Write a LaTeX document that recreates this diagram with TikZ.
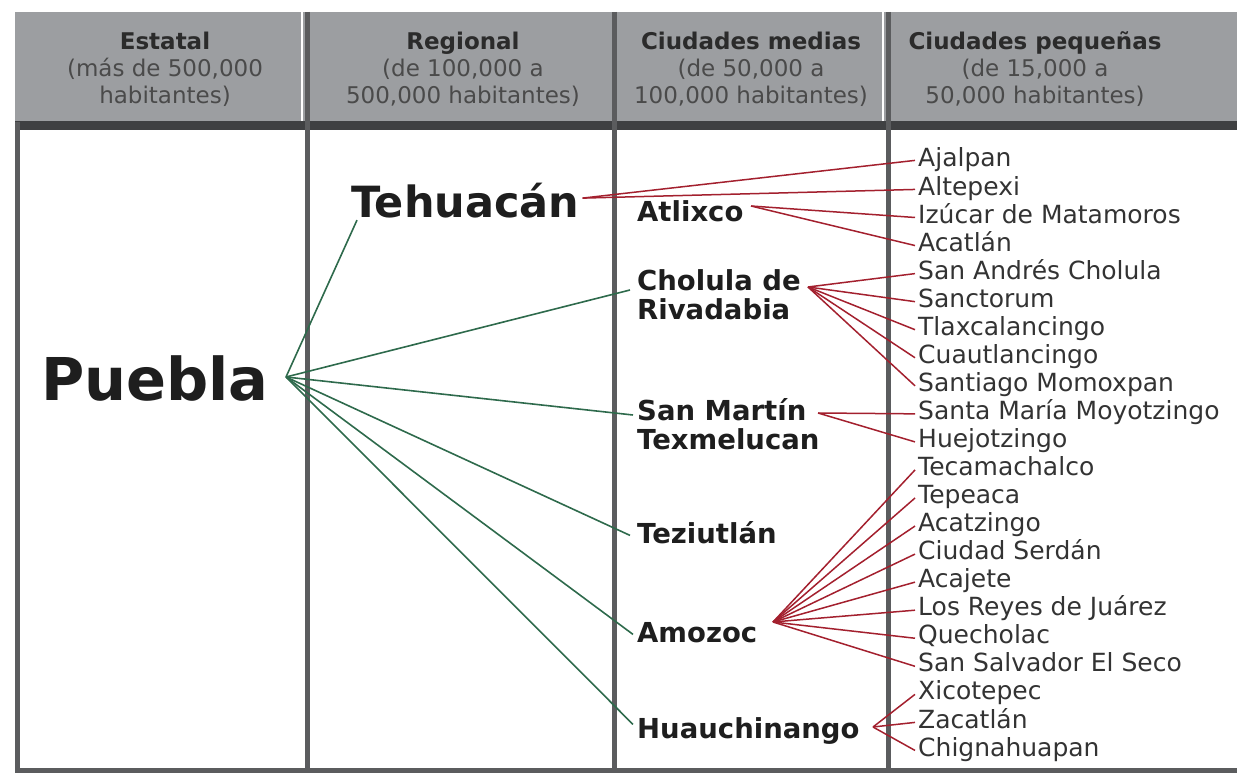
\documentclass[tikz,border=0pt]{standalone}
\usepackage{fontspec}
\setmainfont{DejaVu Sans}
\definecolor{hdrfill}{HTML}{9C9EA1}
\definecolor{bandcol}{HTML}{3F4042}
\definecolor{divcol}{HTML}{5B5C5E}
\definecolor{lgreen}{HTML}{2E6A4C}
\definecolor{lred}{HTML}{A3202E}
\definecolor{boldtxt}{HTML}{1E1E1E}
\definecolor{hdrbold}{HTML}{2B2B2B}
\definecolor{hdrreg}{HTML}{4A4A4A}
\definecolor{smalltxt}{HTML}{333333}
\begin{document}
\begin{tikzpicture}[x=1pt,y=-1pt,
  hdr/.style={align=center, inner sep=0pt, text=hdrreg, font=\fontsize{23}{27}\selectfont},
  midname/.style={anchor=west, align=left, inner sep=0pt, text=boldtxt, font=\bfseries\fontsize{27.5}{29}\selectfont},
  midone/.style={anchor=base west, inner sep=0pt, text=boldtxt, font=\bfseries\fontsize{27.5}{29}\selectfont, text height=0.76em, text depth=0.24em},
  smallname/.style={anchor=base west, inner sep=0pt, text=smalltxt, font=\fontsize{25}{28}\selectfont, text height=0.76em, text depth=0.24em},
  gline/.style={draw=lgreen, line width=1.6pt},
  rline/.style={draw=lred, line width=1.5pt},
  divider/.style={draw=divcol, line width=5pt}]
\useasboundingbox (0,0) rectangle (1237,775);
% header
\fill[hdrfill] (15,12) rectangle (1237,122);
\fill[bandcol] (15,121) rectangle (1237,130);
\draw[white, line width=1.5pt] (302,12) -- (302,121);
\draw[white, line width=1.5pt] (883,12) -- (883,121);
\draw[divider] (17,122) -- (17,770);
\draw[divider] (307,12) -- (307,770);
\draw[divider] (614,12) -- (614,770);
\draw[divider] (888,12) -- (888,770);
\draw[divider] (15,770) -- (1237,770);
\node[hdr] (h1) at (165,69) {{\color{hdrbold}\bfseries Estatal}\\(más de 500,000\\habitantes)};
\node[hdr] (h2) at (463,69) {{\color{hdrbold}\bfseries Regional}\\(de 100,000 a\\500,000 habitantes)};
\node[hdr] (h3) at (751,69) {{\color{hdrbold}\bfseries Ciudades medias}\\(de 50,000 a\\100,000 habitantes)};
\node[hdr] (h4) at (1035,69) {{\color{hdrbold}\bfseries Ciudades pequeñas}\\(de 15,000 a\\50,000 habitantes)};
% main names
\node[anchor=base west, inner sep=0pt, text=boldtxt, font=\bfseries\fontsize{59}{60}\selectfont] (puebla) at (41,401) {Puebla};
\node[anchor=base west, inner sep=0pt, text=boldtxt, font=\bfseries\fontsize{43}{45}\selectfont] (tehuacan) at (351,218) {Tehuacán};
\node[midone] (atlixco) at (637,222) {Atlixco};
\node[midname] (cholula) at (637,295) {Cholula de\\Rivadabia};
\node[midname] (sanmartin) at (637,424) {San Martín\\Texmelucan};
\node[midone] (teziutlan) at (637,543) {Teziutlán};
\node[midone] (amozoc) at (637,642) {Amozoc};
\node[midone] (huauchinango) at (637,738) {Huauchinango};
% small cities
\foreach \t [count=\i] in {Ajalpan, Altepexi, Izúcar de Matamoros, Acatlán, San Andrés Cholula, Sanctorum, Tlaxcalancingo, Cuautlancingo, Santiago Momoxpan, Santa María Moyotzingo, Huejotzingo, Tecamachalco, Tepeaca, Acatzingo, Ciudad Serdán, Acajete, Los Reyes de Juárez, Quecholac, San Salvador El Seco, Xicotepec, Zacatlán, Chignahuapan}
  \node[smallname] (c\i) at (918,{167+28.05*(\i-1)}) {\t};
% hubs
\coordinate (pHub) at (286,377);
\coordinate (aHub) at (751,206);
\coordinate (chHub) at (808,287);
\coordinate (smHub) at (818,413);
\coordinate (amHub) at (773,622);
\coordinate (huHub) at (873,727);
% green connectors
\draw[gline] (pHub) -- ([shift={(6,19)}]tehuacan.west);
\draw[gline] (pHub) -- ([shift={(-7,-5)}]cholula.west);
\draw[gline] (pHub) -- ([shift={(-4,-9)}]sanmartin.west);
\draw[gline] (pHub) -- ([shift={(-7,-5)}]teziutlan.west);
\draw[gline] (pHub) -- ([shift={(-4,-5)}]amozoc.west);
\draw[gline] (pHub) -- ([shift={(-4,-11)}]huauchinango.west);
% red connectors
\draw[rline] ([shift={(3,-3)}]tehuacan.east) -- ([shift={(-3,-4)}]c1.west);
\draw[rline] ([shift={(3,-3)}]tehuacan.east) -- ([shift={(-3,-3)}]c2.west);
\foreach \j in {3,4} \draw[rline] (aHub) -- ([shift={(-3,-3)}]c\j.west);
\foreach \j in {5,...,9} \draw[rline] (chHub) -- ([shift={(-3,-3)}]c\j.west);
\foreach \j in {10,11} \draw[rline] (smHub) -- ([shift={(-3,-3)}]c\j.west);
\foreach \j in {12,...,19} \draw[rline] (amHub) -- ([shift={(-3,-3)}]c\j.west);
\foreach \j in {20,21,22} \draw[rline] (huHub) -- ([shift={(-3,-3)}]c\j.west);
\end{tikzpicture}
\end{document}
